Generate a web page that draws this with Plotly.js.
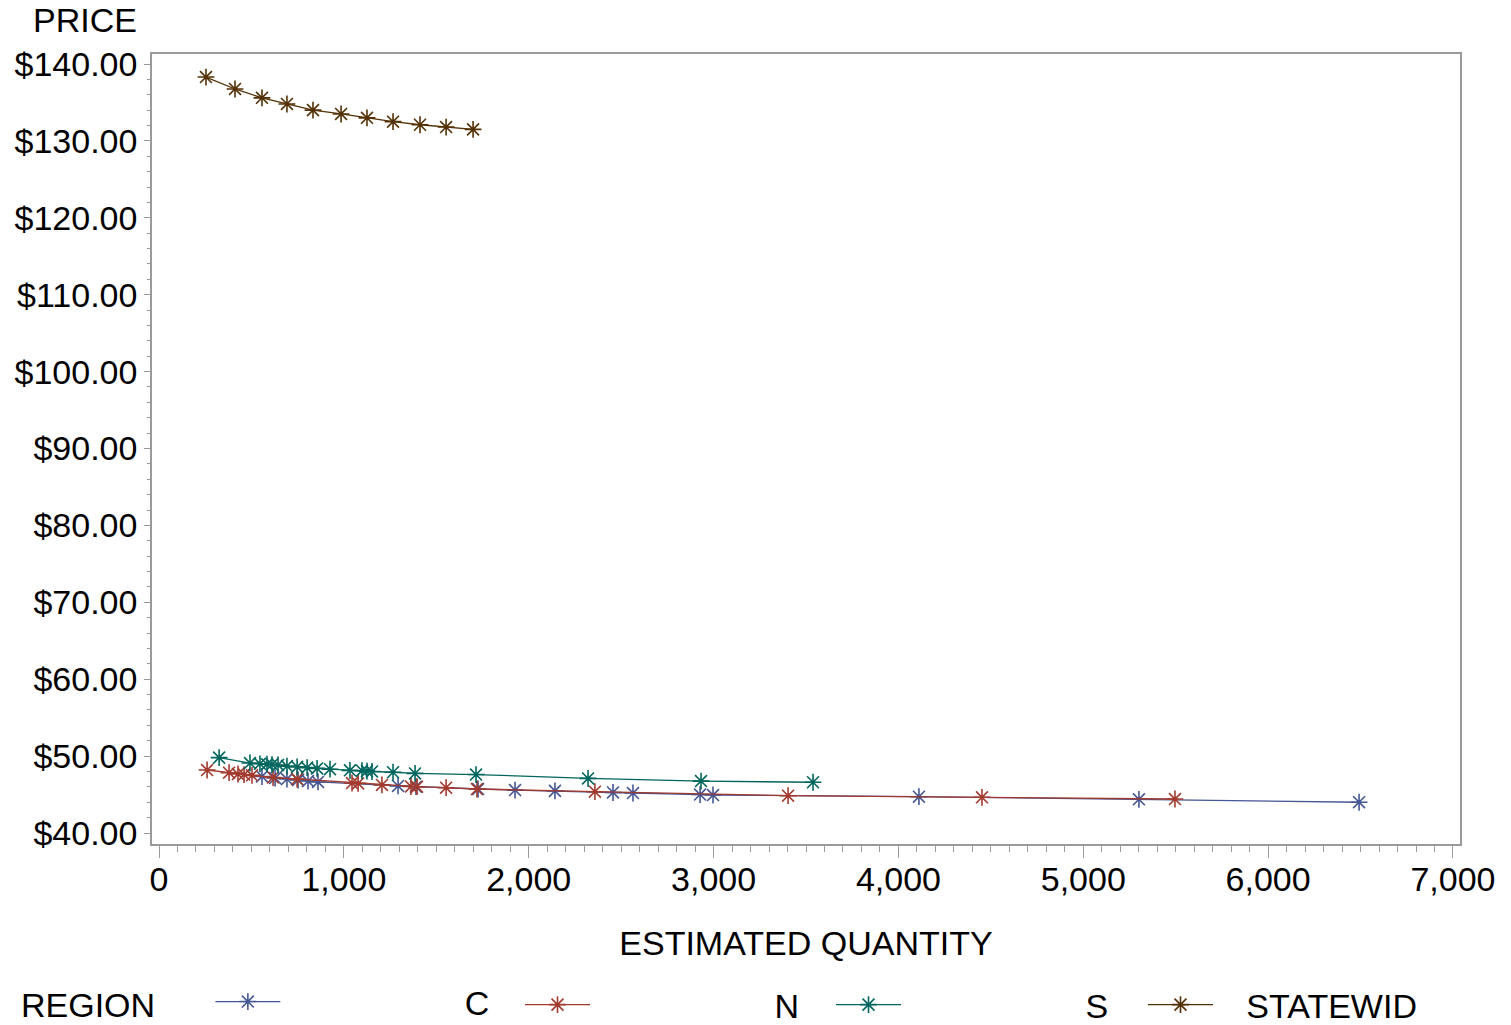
<!DOCTYPE html>
<html>
<head>
<meta charset="utf-8">
<script src="https://cdn.plot.ly/plotly-3.0.1.min.js"></script>
<style>
html, body { margin: 0; padding: 0; background: #ffffff; }
#chart { width: 1511px; height: 1025px; }
</style>
</head>
<body>
<div id="chart"></div>
<script>
// ---- Data ----
var regionNames = ["C", "N", "S", "STATEWID"];
var seriesColors = ["#445694", "#A23A2E", "#01665E", "#543005"];

var cQty   = [557, 628, 692, 752, 806, 860, 1293, 1390, 1726, 1926, 2142, 2456, 2564, 2927, 2997, 4111, 5301, 6492];
var cPrice = [47.35, 47.15, 47.02, 46.89, 46.76, 46.64, 46.12, 46.02, 45.72, 45.58, 45.48, 45.27, 45.20, 45.00, 44.94, 44.72, 44.38, 44.00];

var nQty   = [260, 379, 427, 460, 503, 617, 747, 1044, 1077, 1206, 1363, 1396, 1553, 1720, 2358, 3403, 4452, 5496];
var nPrice = [48.19, 47.84, 47.67, 47.60, 47.50, 47.22, 47.02, 46.50, 46.45, 46.25, 46.05, 46.02, 45.89, 45.72, 45.37, 44.85, 44.64, 44.42];

var sQty   = [325, 492, 546, 584, 611, 644, 692, 747, 801, 855, 925, 1033, 1098, 1125, 1152, 1266, 1385, 1715, 2321, 2932, 3538];
var sPrice = [49.80, 49.10, 49.00, 48.95, 48.90, 48.85, 48.70, 48.60, 48.50, 48.40, 48.30, 48.15, 48.10, 48.05, 48.00, 47.90, 47.75, 47.60, 47.10, 46.75, 46.60];

var stQty   = [254, 411, 557, 692, 833, 985, 1125, 1266, 1412, 1553, 1699];
var stPrice = [138.30, 136.75, 135.60, 134.80, 134.00, 133.50, 133.00, 132.50, 132.10, 131.80, 131.50];

var xTitle = "ESTIMATED QUANTITY";
var yTitle = "PRICE";
var legendTitle = "REGION";

// ---- Build ----
var FONT = "Liberation Sans, Arial, sans-serif";
var NB = "\u00a0";
var padCounts = [19, 19, 19, 3];
var xs = [cQty, nQty, sQty, stQty];
var ys = [cPrice, nPrice, sPrice, stPrice];
var legendIds = ["legend", "legend2", "legend3", "legend4"];

var traces = regionNames.map(function (nm, i) {
  return {
    type: "scatter",
    mode: "lines+markers",
    name: NB.repeat(padCounts[i]) + nm,
    legend: legendIds[i],
    x: xs[i],
    y: ys[i],
    line: { color: seriesColors[i], width: 1.3 },
    marker: { symbol: "asterisk-open", size: 14, color: seriesColors[i], line: { color: seriesColors[i], width: 1.6 } },
    hovertemplate: nm + ": %{x:,d}, $%{y:.2f}<extra></extra>"
  };
});

var axisGray = "#9a9a9a";
var legendBase = {
  orientation: "h",
  xref: "container", yref: "container",
  yanchor: "middle", xanchor: "left",
  y: 0.0195,
  font: { family: FONT, size: 34, color: "#000" },
  bgcolor: "rgba(0,0,0,0)",
  borderwidth: 0,
  itemwidth: 65,
  itemclick: false, itemdoubleclick: false
};
function mkLegend(px, extra) {
  var o = Object.assign({}, legendBase, { x: px / 1511 });
  return Object.assign(o, extra || {});
}

var layout = {
  width: 1511, height: 1025,
  paper_bgcolor: "#ffffff", plot_bgcolor: "#ffffff",
  font: { family: FONT, size: 34, color: "#000" },
  margin: { l: 152, r: 51, t: 54, b: 181, pad: 0 },
  showlegend: true,
  legend: mkLegend(19, { y: 0.0225, title: { text: legendTitle + NB.repeat(5), font: { family: FONT, size: 34, color: "#000" } } }),
  legend2: mkLegend(520),
  legend3: mkLegend(831),
  legend4: mkLegend(1143),
  xaxis: {
    range: [-38, 7038],
    dtick: 1000, tick0: 0,
    tickformat: ",d",
    showgrid: false, zeroline: false,
    showline: true, linecolor: axisGray, linewidth: 1.5, mirror: true,
    ticks: "outside", ticklen: 12, tickwidth: 1.3, tickcolor: axisGray,
    ticklabelstandoff: -8,
    minor: { dtick: 100, ticks: "outside", ticklen: 6, tickwidth: 1, tickcolor: axisGray, showgrid: false },
    tickfont: { family: FONT, size: 34, color: "#000" },
    title: { text: xTitle, font: { family: FONT, size: 34, color: "#000" }, standoff: 35 }
  },
  yaxis: {
    range: [38.57, 141.3],
    dtick: 10, tick0: 0,
    tickprefix: "$", tickformat: ".2f",
    showgrid: false, zeroline: false,
    showline: true, linecolor: axisGray, linewidth: 1.5, mirror: true,
    ticks: "outside", ticklen: 6, tickwidth: 1.3, tickcolor: axisGray,
    minor: { dtick: 2, ticks: "outside", ticklen: 3, tickwidth: 1, tickcolor: axisGray, showgrid: false },
    tickfont: { family: FONT, size: 34, color: "#000" }
  },
  annotations: [{
    text: yTitle,
    xref: "paper", yref: "paper",
    x: 0, y: 1 + 34 / 790,
    xanchor: "right", yanchor: "middle",
    xshift: -13,
    showarrow: false,
    font: { family: FONT, size: 34, color: "#000" }
  }]
};

Plotly.newPlot("chart", traces, layout, { staticPlot: false, displayModeBar: false, responsive: false });
</script>
</body>
</html>
